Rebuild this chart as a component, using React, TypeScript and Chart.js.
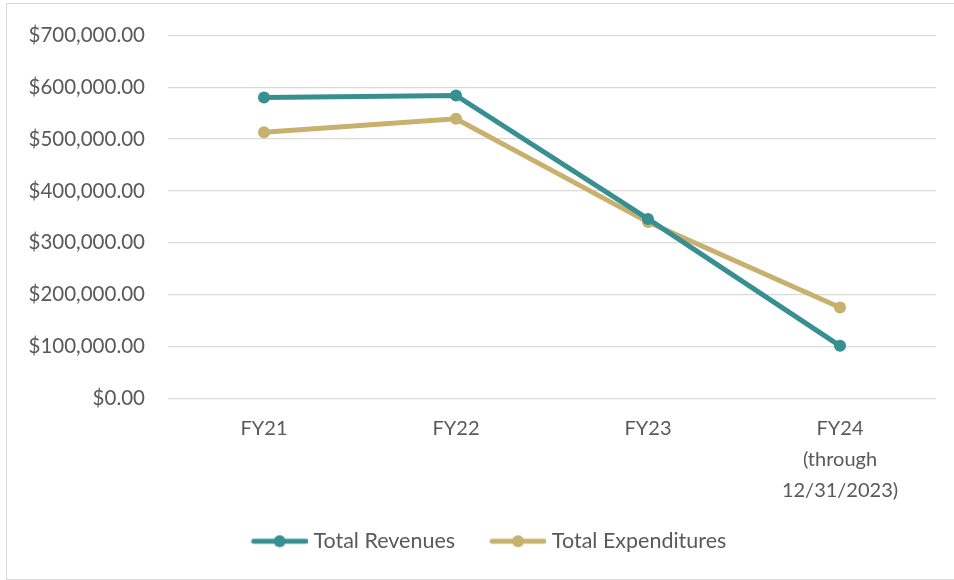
import React, { useEffect, useRef } from "react";
import { Chart, registerables } from "chart.js";

Chart.register(...registerables);

const categories: (string | string[])[] = ["FY21", "FY22", "FY23", ["FY24", "(through", "12/31/2023)"]];
const totalRevenues = [580000, 584000, 346000, 101500];
const totalExpenditures = [513000, 539000, 340000, 175500];
const yTickMax = 700000;
const yTickStep = 100000;

const TEAL = "#378F92";
const GOLD = "#C8B06E";
const TEXT = "#595959";
const GRID = "#D9D9D9";
const FONT = "Lato, 'Open Sans', sans-serif";

function makeLegendImage(color: string): HTMLCanvasElement {
  const c = document.createElement("canvas");
  c.width = 86;
  c.height = 14;
  const ctx = c.getContext("2d")!;
  ctx.strokeStyle = color;
  ctx.lineWidth = 5;
  ctx.lineCap = "round";
  ctx.beginPath();
  ctx.moveTo(32, 7);
  ctx.lineTo(84, 7);
  ctx.stroke();
  ctx.fillStyle = color;
  ctx.beginPath();
  ctx.arc(58, 7, 6, 0, Math.PI * 2);
  ctx.fill();
  return c;
}

export default function App() {
  const ref = useRef<HTMLCanvasElement | null>(null);

  useEffect(() => {
    document.body.style.margin = "0";
    const canvas = ref.current;
    if (!canvas) return;
    const imgs = [makeLegendImage(TEAL), makeLegendImage(GOLD)];
    const chart = new Chart(canvas, {
      type: "line",
      data: {
        labels: categories,
        datasets: [
          {
            label: "Total Revenues",
            data: totalRevenues,
            borderColor: TEAL,
            backgroundColor: TEAL,
            borderWidth: 5,
            pointRadius: 6,
            pointBackgroundColor: TEAL,
            pointBorderWidth: 0,
            tension: 0,
          },
          {
            label: "Total Expenditures",
            data: totalExpenditures,
            borderColor: GOLD,
            backgroundColor: GOLD,
            borderWidth: 5,
            pointRadius: 6,
            pointBackgroundColor: GOLD,
            pointBorderWidth: 0,
            tension: 0,
          },
        ],
      },
      options: {
        animation: false,
        responsive: false,
        maintainAspectRatio: false,
        layout: { padding: { left: 17, right: 18, top: 33, bottom: 18 } },
        elements: { point: { pointStyle: "circle" } },
        plugins: {
          tooltip: { enabled: false },
          legend: {
            display: true,
            position: "bottom",
            labels: {
              usePointStyle: true,
              pointStyleWidth: 76,
              padding: 10,
              color: TEXT,
              font: { family: FONT, size: 21.5, lineHeight: 1.1 },
              generateLabels: (ch: any) =>
                ch.data.datasets.map((ds: any, i: number) => ({
                  text: ds.label,
                  fillStyle: ds.borderColor,
                  strokeStyle: ds.borderColor,
                  fontColor: TEXT,
                  lineWidth: 0,
                  hidden: false,
                  datasetIndex: i,
                  pointStyle: imgs[i],
                })),
            },
          },
        },
        scales: {
          x: {
            offset: true,
            grid: { display: false, drawTicks: false },
            border: { display: false },
            ticks: {
              color: TEXT,
              padding: 15,
              maxRotation: 0,
              font: { family: FONT, size: 20, lineHeight: 1.55 },
            },
            afterFit: (s: any) => {
              s.height = 122;
            },
          },
          y: {
            min: 0,
            max: yTickMax,
            grid: { color: GRID, lineWidth: 1.3, drawTicks: false },
            border: { display: false },
            ticks: {
              stepSize: yTickStep,
              color: TEXT,
              padding: 23,
              font: { family: FONT, size: 20.5 },
              callback: (v: any) =>
                "$" + Number(v).toLocaleString("en-US", { minimumFractionDigits: 2, maximumFractionDigits: 2 }),
            },
            afterFit: (s: any) => {
              s.width = 151;
            },
          },
        },
      },
    });
    return () => chart.destroy();
  }, []);

  return (
    <div style={{ position: "relative", width: 954, height: 580, background: "#fff", overflow: "hidden" }}>
      <canvas ref={ref} width={954} height={580} style={{ position: "absolute", left: 0, top: 0 }} />
      <div
        style={{
          position: "absolute",
          left: 6,
          top: 3,
          width: 960,
          height: 577,
          boxSizing: "border-box",
          border: "1.5px solid #D9D9D9",
          pointerEvents: "none",
        }}
      />
    </div>
  );
}
